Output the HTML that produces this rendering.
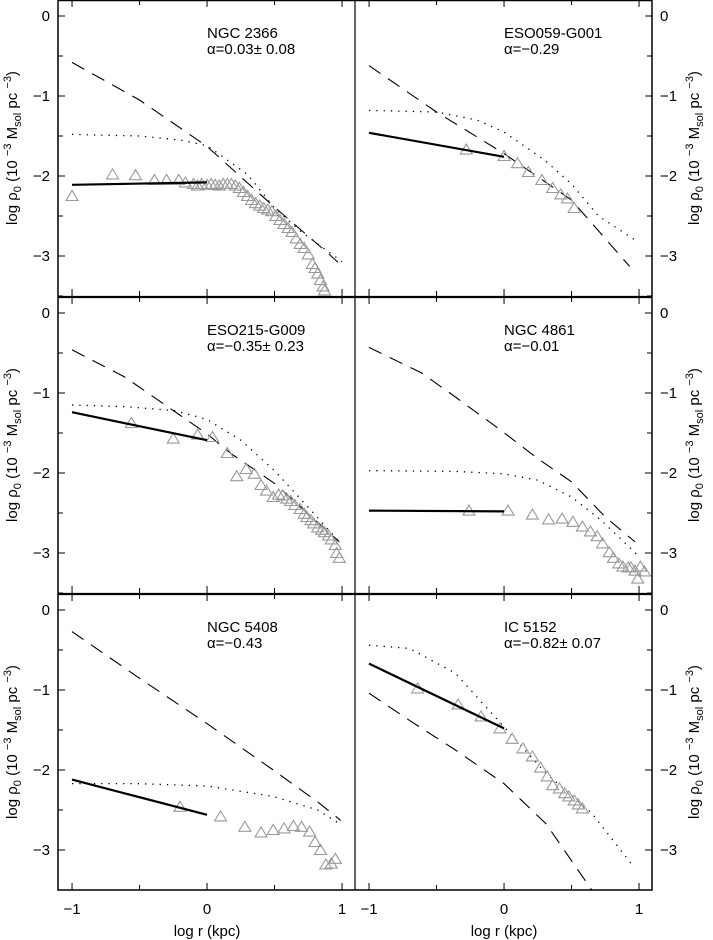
<!DOCTYPE html>
<html><head><meta charset="utf-8"><style>
html,body{margin:0;padding:0;background:#fff;}
svg{display:block;font-family:"Liberation Sans",sans-serif;}
</style></head><body>
<svg id="chart" width="713" height="940" viewBox="0 0 713 940" xmlns="http://www.w3.org/2000/svg"></svg>
<script>
// ---- data (log r in kpc, log rho) ----
const p1Name = "NGC 2366", p1Alpha = "α=0.03± 0.08";
const p1ObsX = [-1,-0.7,-0.53,-0.39,-0.3,-0.21,-0.16,-0.1,-0.07,-0.04,0,0.03,0.06,0.09,0.12,0.15,0.18,0.21,0.24,0.27,0.3,0.33,0.36,0.39,0.42,0.45,0.48,0.51,0.54,0.57,0.6,0.63,0.66,0.69,0.72,0.75,0.78,0.8,0.82,0.84,0.86,0.87];
const p1ObsY = [-2.25,-1.98,-1.99,-2.05,-2.05,-2.05,-2.08,-2.1,-2.12,-2.1,-2.11,-2.1,-2.11,-2.12,-2.1,-2.1,-2.1,-2.12,-2.15,-2.2,-2.25,-2.3,-2.34,-2.37,-2.4,-2.42,-2.44,-2.5,-2.55,-2.6,-2.65,-2.7,-2.78,-2.85,-2.9,-2.98,-3.1,-3.15,-3.22,-3.3,-3.38,-3.43];
const p1FitX = [-1,0], p1FitY = [-2.11,-2.08];
const p1DashX = [-1,-0.5,0,0.5,0.9,0.97], p1DashY = [-0.58,-1.05,-1.63,-2.39,-2.97,-3.08];
const p1DotX = [-1,-0.5,-0.2,0,0.3,0.5,0.7,1], p1DotY = [-1.48,-1.5,-1.55,-1.62,-1.98,-2.4,-2.7,-3.07];

const p2Name = "ESO059-G001", p2Alpha = "α=−0.29";
const p2ObsX = [-0.28,0,0.1,0.18,0.28,0.36,0.42,0.47,0.52];
const p2ObsY = [-1.67,-1.75,-1.84,-1.95,-2.05,-2.15,-2.23,-2.28,-2.4];
const p2FitX = [-1,0], p2FitY = [-1.46,-1.76];
const p2DashX = [-1,-0.5,0,0.5,0.93], p2DashY = [-0.62,-1.2,-1.72,-2.3,-3.13];
const p2DotX = [-1,-0.5,-0.2,0,0.3,0.5,0.7,0.97], p2DotY = [-1.18,-1.2,-1.3,-1.45,-1.8,-2.1,-2.5,-2.8];

const p3Name = "ESO215-G009", p3Alpha = "α=−0.35± 0.23";
const p3ObsX = [-0.56,-0.25,-0.07,0.04,0.15,0.22,0.29,0.35,0.4,0.44,0.49,0.53,0.56,0.59,0.62,0.65,0.69,0.72,0.74,0.77,0.79,0.82,0.85,0.87,0.9,0.92,0.95,0.96,0.98];
const p3ObsY = [-1.375,-1.57,-1.52,-1.55,-1.75,-2.04,-1.95,-2.01,-2.15,-2.22,-2.3,-2.27,-2.28,-2.32,-2.35,-2.4,-2.45,-2.51,-2.55,-2.59,-2.63,-2.68,-2.71,-2.74,-2.78,-2.83,-2.9,-3.0,-3.06];
const p3FitX = [-1,0], p3FitY = [-1.24,-1.59];
const p3DashX = [-1,-0.61,-0.25,0,0.18,0.5,0.75,0.98], p3DashY = [-0.46,-0.8,-1.22,-1.51,-1.76,-2.13,-2.51,-2.86];
const p3DotX = [-1,-0.61,-0.24,0,0.25,0.5,0.75,0.98], p3DotY = [-1.15,-1.17,-1.22,-1.33,-1.59,-1.97,-2.43,-2.86];

const p4Name = "NGC 4861", p4Alpha = "α=−0.01";
const p4ObsX = [-0.26,0.03,0.21,0.33,0.43,0.51,0.58,0.64,0.69,0.73,0.78,0.81,0.85,0.88,0.92,0.94,0.97,0.99,1.01,1.04];
const p4ObsY = [-2.47,-2.47,-2.52,-2.58,-2.57,-2.61,-2.67,-2.73,-2.79,-2.88,-2.99,-3.06,-3.13,-3.17,-3.18,-3.18,-3.22,-3.32,-3.17,-3.23];
const p4FitX = [-1,0], p4FitY = [-2.47,-2.48];
const p4DashX = [-1,-0.61,-0.36,-0.02,0.25,0.5,0.75,0.97], p4DashY = [-0.43,-0.75,-1.05,-1.47,-1.82,-2.11,-2.55,-2.86];
const p4DotX = [-1,-0.36,0,0.25,0.5,0.72,0.98], p4DotY = [-1.97,-1.98,-2.01,-2.09,-2.3,-2.59,-3.01];

const p5Name = "NGC 5408", p5Alpha = "α=−0.43";
const p5ObsX = [-0.2,0.1,0.28,0.4,0.49,0.57,0.64,0.7,0.76,0.8,0.84,0.88,0.92,0.95];
const p5ObsY = [-2.46,-2.58,-2.71,-2.78,-2.75,-2.73,-2.7,-2.71,-2.77,-2.9,-3.0,-3.18,-3.17,-3.11];
const p5FitX = [-1,0], p5FitY = [-2.12,-2.56];
const p5DashX = [-1,-0.52,0,0.49,0.82,0.99], p5DashY = [-0.27,-0.83,-1.42,-2.0,-2.4,-2.63];
const p5DotX = [-1,-0.52,0,0.49,0.82,0.98], p5DotY = [-2.17,-2.17,-2.2,-2.33,-2.5,-2.67];

const p6Name = "IC 5152", p6Alpha = "α=−0.82± 0.07";
const p6ObsX = [-0.64,-0.34,-0.17,-0.03,0.06,0.14,0.21,0.27,0.32,0.36,0.41,0.45,0.48,0.52,0.55,0.58];
const p6ObsY = [-0.98,-1.18,-1.33,-1.48,-1.61,-1.73,-1.83,-1.97,-2.08,-2.19,-2.23,-2.29,-2.33,-2.38,-2.43,-2.48];
const p6FitX = [-1,0], p6FitY = [-0.67,-1.48];
const p6DashX = [-1,-0.7,-0.36,0,0.31,0.67], p6DashY = [-1.04,-1.38,-1.75,-2.17,-2.67,-3.55];
const p6DotX = [-1,-0.7,-0.36,0,0.31,0.65,0.96], p6DotY = [-0.44,-0.48,-0.79,-1.46,-2.04,-2.54,-3.21];

const yTicks = [0,-1,-2,-3];
const xTicks = [-1,0,1];

// ---- layout ----
const NS = "http://www.w3.org/2000/svg";
const svg = document.getElementById('chart');
const PW = 297, PH = 296, XUNIT = 135, YUNIT = 80, XMIN = -1.104, YMAX = 0.2;
function mk(tag, attrs, parent){const e=document.createElementNS(NS,tag);for(const k in attrs)e.setAttribute(k,attrs[k]);(parent||svg).appendChild(e);return e;}

const panels = [
 {x0:58,y0:0,side:'L',name:p1Name,alpha:p1Alpha,ox:p1ObsX,oy:p1ObsY,fx:p1FitX,fy:p1FitY,dx:p1DashX,dy:p1DashY,tx:p1DotX,ty:p1DotY,id:'ngc2366'},
 {x0:355,y0:0,side:'R',name:p2Name,alpha:p2Alpha,ox:p2ObsX,oy:p2ObsY,fx:p2FitX,fy:p2FitY,dx:p2DashX,dy:p2DashY,tx:p2DotX,ty:p2DotY,id:'eso059'},
 {x0:58,y0:297,side:'L',name:p3Name,alpha:p3Alpha,ox:p3ObsX,oy:p3ObsY,fx:p3FitX,fy:p3FitY,dx:p3DashX,dy:p3DashY,tx:p3DotX,ty:p3DotY,id:'eso215'},
 {x0:355,y0:297,side:'R',name:p4Name,alpha:p4Alpha,ox:p4ObsX,oy:p4ObsY,fx:p4FitX,fy:p4FitY,dx:p4DashX,dy:p4DashY,tx:p4DotX,ty:p4DotY,id:'ngc4861'},
 {x0:58,y0:594,side:'L',name:p5Name,alpha:p5Alpha,ox:p5ObsX,oy:p5ObsY,fx:p5FitX,fy:p5FitY,dx:p5DashX,dy:p5DashY,tx:p5DotX,ty:p5DotY,id:'ngc5408'},
 {x0:355,y0:594,side:'R',name:p6Name,alpha:p6Alpha,ox:p6ObsX,oy:p6ObsY,fx:p6FitX,fy:p6FitY,dx:p6DashX,dy:p6DashY,tx:p6DotX,ty:p6DotY,id:'ic5152'}
];

panels.forEach(p=>{
  const g = mk('g',{});
  
  
  const sx = v => p.x0 + (v - XMIN)*XUNIT;
  const sy = v => p.y0 + (YMAX - v)*YUNIT;
  const clipId = 'clip-'+p.id;
  const cp = mk('clipPath',{id:clipId},g);
  mk('rect',{x:p.x0,y:p.y0,width:PW,height:PH},cp);
  const pts = (xs,ys)=>xs.map((x,i)=>sx(x).toFixed(1)+','+sy(ys[i]).toFixed(1)).join(' ');
  const dash = mk('polyline',{points:pts(p.dx,p.dy),fill:'none',stroke:'#000','stroke-width':1.1,'stroke-dasharray':'14 9','clip-path':'url(#'+clipId+')'},g);
  
  
  const dot = mk('polyline',{points:pts(p.tx,p.ty),fill:'none',stroke:'#000','stroke-width':1.3,'stroke-dasharray':'1.3 6','clip-path':'url(#'+clipId+')'},g);
  
  
  p.ox.forEach((x,i)=>{
    const cx=sx(x), cy=sy(p.oy[i]);
    const t = mk('polygon',{points:`${cx-6},${cy+4.5} ${cx+6},${cy+4.5} ${cx},${cy-5.5}`,fill:'none',stroke:'#999','stroke-width':1.1,'clip-path':'url(#'+clipId+')'},g);
    
    
  });
  const fit = mk('polyline',{points:pts(p.fx,p.fy),fill:'none',stroke:'#000','stroke-width':2.2},g);
  
  
  // ticks
  for(let v=-1;v<=1.001;v+=0.5){
    const len = Math.abs(v-Math.round(v))<0.01?7:5;
    mk('line',{x1:sx(v),x2:sx(v),y1:p.y0+PH,y2:p.y0+PH-len,stroke:'#000','stroke-width':1},g);
    mk('line',{x1:sx(v),x2:sx(v),y1:p.y0,y2:p.y0+len,stroke:'#000','stroke-width':1},g);
  }
  for(let v=-3.5;v<=0.001;v+=0.5){
    const len = Math.abs(v-Math.round(v))<0.01?7:5;
    if(p.side==='L') mk('line',{x1:p.x0,x2:p.x0+len,y1:sy(v),y2:sy(v),stroke:'#000','stroke-width':1},g);
    else mk('line',{x1:p.x0+PW,x2:p.x0+PW-len,y1:sy(v),y2:sy(v),stroke:'#000','stroke-width':1},g);
  }
  yTicks.forEach(v=>{
    const t = mk('text',{x:p.side==='L'?p.x0-8:p.x0+PW+8,y:sy(v)+5,'font-size':15,'text-anchor':p.side==='L'?'end':'start'},g);
    t.textContent = v<0?'−'+(-v):String(v);
    
    
  });
  const n = mk('text',{x:p.x0+149,y:p.y0+38,'font-size':15},g);
  n.textContent = p.name;
  
  
  const a = mk('text',{x:p.x0+149,y:p.y0+54,'font-size':15},g);
  a.textContent = p.alpha;
  
  
  // y title
  const cx = p.side==='L'?17:699, cy = p.y0+PH/2;
  const yt = mk('text',{x:cx,y:cy,'font-size':15,'text-anchor':'middle',transform:`rotate(-90 ${cx} ${cy})`},g);
  yt.innerHTML = 'log ρ<tspan font-size="11" dy="4">0</tspan><tspan dy="-4"> (10 </tspan><tspan font-size="11" dy="-6">−3</tspan><tspan dy="6"> M</tspan><tspan font-size="11" dy="4">sol</tspan><tspan dy="-4"> pc </tspan><tspan font-size="11" dy="-6">−3</tspan><tspan dy="6">)</tspan>';
  
  
  if(p.y0===594){
    xTicks.forEach(v=>{
      const t = mk('text',{x:sx(v),y:914,'font-size':15,'text-anchor':'middle'},g);
      t.textContent = v<0?'−'+(-v):String(v);
      
      
    });
    const xt = mk('text',{x:sx(0),y:936,'font-size':15,'text-anchor':'middle'},g);
    xt.textContent = 'log r (kpc)';
    
    
  }
});
// frame
const fr = mk('g',{});


mk('rect',{x:58,y:0.5,width:594,height:889.5,fill:'none',stroke:'#000','stroke-width':1.5},fr);
mk('line',{x1:355,x2:355,y1:0,y2:890,stroke:'#000','stroke-width':1.2},fr);
mk('line',{x1:58,x2:652,y1:297,y2:297,stroke:'#000','stroke-width':2.2},fr);
mk('line',{x1:58,x2:652,y1:594,y2:594,stroke:'#000','stroke-width':2.2},fr);
</script>
</body></html>
